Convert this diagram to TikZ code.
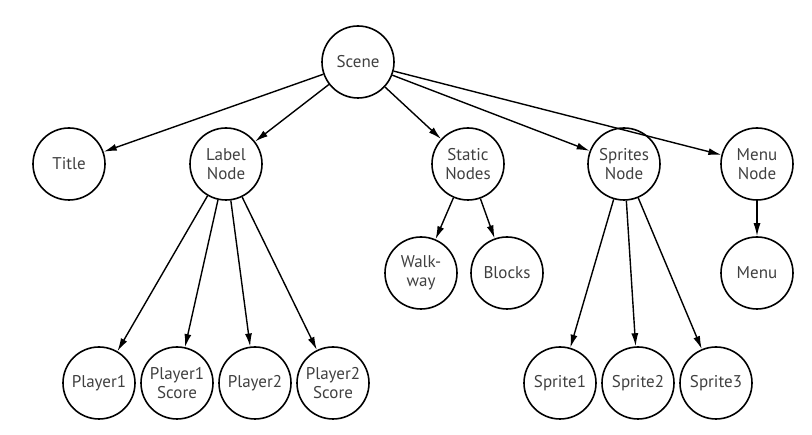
\documentclass[tikz,border=0pt]{standalone}
\usepackage{fontspec}
\setmainfont{PT Sans}
\usetikzlibrary{arrows.meta}

\begin{document}
\begin{tikzpicture}
[every node/.style={inner sep=0pt, circle, minimum size=72pt, line width=1.6pt, draw=black, align=center, font=\fontsize{17}{19}\selectfont, text=black!75}]
\useasboundingbox (0pt, 0pt) rectangle (812pt, -435pt);
\node (scene) at (358pt, -62pt) {Scene};
\node (title) at (69pt, -164pt) {Title};
\node (label) at (226pt, -164pt) {Label\\Node};
\node (static) at (468pt, -164pt) {Static\\Nodes};
\node (sprites) at (624pt, -164pt) {Sprites\\Node};
\node (menunode) at (757pt, -164pt) {Menu\\Node};
\node (walkway) at (421pt, -273pt) {Walk-\\way};
\node (blocks) at (507pt, -273pt) {Blocks};
\node (menu) at (757pt, -273pt) {Menu};
\node (player1) at (99pt, -383pt) {Player1};
\node (score1) at (177pt, -383pt) {Player1\\Score};
\node (player2) at (255pt, -383pt) {Player2};
\node (score2) at (333pt, -383pt) {Player2\\Score};
\node (sprite1) at (560pt, -383pt) {Sprite1};
\node (sprite2) at (638pt, -383pt) {Sprite2};
\node (sprite3) at (716pt, -383pt) {Sprite3};
\draw [line width=1.4pt, -{Latex[length=13pt, width=7pt]}, color=black] (scene) to (title);
\draw [line width=1.4pt, -{Latex[length=13pt, width=7pt]}, color=black] (scene) to (label);
\draw [line width=1.4pt, -{Latex[length=13pt, width=7pt]}, color=black] (scene) to (static);
\draw [line width=1.4pt, -{Latex[length=13pt, width=7pt]}, color=black] (scene) to (sprites);
\draw [line width=1.4pt, -{Latex[length=13pt, width=7pt]}, color=black] (scene) to (menunode);
\draw [line width=1.4pt, -{Latex[length=13pt, width=7pt]}, color=black] (label) to (player1);
\draw [line width=1.4pt, -{Latex[length=13pt, width=7pt]}, color=black] (label) to (score1);
\draw [line width=1.4pt, -{Latex[length=13pt, width=7pt]}, color=black] (label) to (player2);
\draw [line width=1.4pt, -{Latex[length=13pt, width=7pt]}, color=black] (label) to (score2);
\draw [line width=1.4pt, -{Latex[length=13pt, width=7pt]}, color=black] (static) to (walkway);
\draw [line width=1.4pt, -{Latex[length=13pt, width=7pt]}, color=black] (static) to (blocks);
\draw [line width=1.4pt, -{Latex[length=13pt, width=7pt]}, color=black] (sprites) to (sprite1);
\draw [line width=1.4pt, -{Latex[length=13pt, width=7pt]}, color=black] (sprites) to (sprite2);
\draw [line width=1.4pt, -{Latex[length=13pt, width=7pt]}, color=black] (sprites) to (sprite3);
\draw [line width=1.4pt, -{Latex[length=13pt, width=7pt]}, color=black] (menunode) to (menu);
\end{tikzpicture}
\end{document}
